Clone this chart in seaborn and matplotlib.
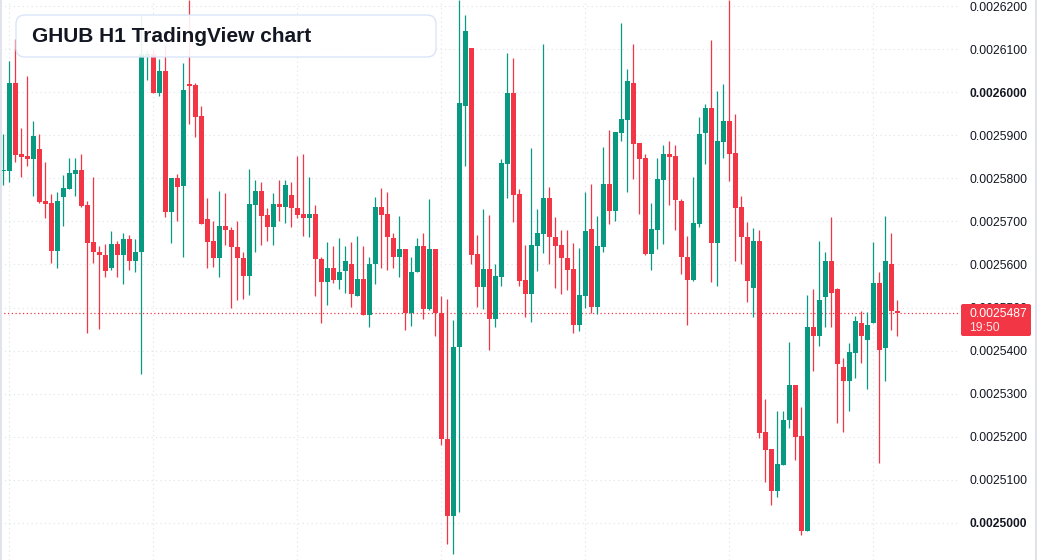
import numpy as np
import seaborn as sns
from matplotlib import pyplot as plt
from matplotlib.patches import FancyBboxPatch
from matplotlib.lines import Line2D
from matplotlib.transforms import IdentityTransform

# hourly candles, prices in units of 1e-7
opens = [25818, 25817, 26022, 25856, 25851, 25845, 25868, 25747, 25743, 25631,
         25757, 25776, 25810, 25819, 25738, 25652, 25630, 25622, 25591, 25648,
         25621, 25660, 25607, 25628, 26085, 26088, 25998, 26050, 25722, 25801,
         25783, 26020, 26016, 25944, 25706, 25655, 25614, 25689, 25680, 25641,
         25616, 25574, 25739, 25770, 25715, 25688, 25740, 25733, 25761, 25731,
         25717, 25707, 25717, 25613, 25560, 25593, 25565, 25586, 25602, 25526,
         25567, 25482, 25600, 25733, 25717, 25662, 25617, 25636, 25488, 25583,
         25643, 25497, 25636, 25488, 25196, 25016, 25409, 25968, 26103, 25625,
         25547, 25590, 25473, 25572, 25834, 25998, 25764, 25564, 25532, 25644,
         25671, 25755, 25664, 25645, 25616, 25590, 25459, 25528, 25683, 25501,
         25641, 25787, 25725, 25906, 25936, 26022, 25882, 25847, 25625, 25681,
         25797, 25856, 25851, 25747, 25617, 25565, 25694, 25906, 25963, 25650,
         25884, 25932, 25859, 25733, 25664, 25545, 25655, 25211, 25171, 25074,
         25135, 25239, 25321, 25202, 24981, 25455, 25434, 25525, 25608, 25542,
         25362, 25329, 25394, 25465, 25424, 25464, 25558, 25406, 25602, 25493]
highs = [25902, 26072, 26123, 25917, 26037, 25932, 25902, 25837, 25764, 25768,
         25807, 25848, 25848, 25856, 25747, 25802, 25643, 25648, 25678, 25654,
         25674, 25668, 25660, 26178, 26095, 26100, 26078, 26109, 25801, 25810,
         26068, 26214, 26021, 25969, 25755, 25701, 25770, 25766, 25686, 25701,
         25629, 25821, 25796, 25791, 25731, 25766, 25796, 25796, 25791, 25852,
         25856, 25802, 25738, 25617, 25652, 25643, 25662, 25643, 25652, 25667,
         25643, 25617, 25756, 25778, 25768, 25674, 25712, 25636, 25617, 25662,
         25674, 25752, 25636, 25526, 25521, 25470, 26214, 26180, 26103, 25669,
         25729, 25715, 25600, 25844, 26090, 26079, 25775, 25645, 25871, 25729,
         26113, 25779, 25711, 25680, 25680, 25650, 25639, 25768, 25787, 25712,
         25872, 25912, 25907, 26161, 26053, 26111, 25882, 25856, 25743, 25847,
         25877, 25886, 25877, 25752, 25667, 25802, 25942, 25973, 26120, 26002,
         26018, 26214, 25949, 25759, 25699, 25685, 25680, 25287, 25171, 25261,
         25261, 25421, 25321, 25270, 25530, 25542, 25655, 25629, 25711, 25546,
         25382, 25417, 25481, 25493, 25489, 25652, 25583, 25712, 25674, 25518]
lows = [25785, 25791, 25838, 25803, 25829, 25759, 25743, 25709, 25604, 25593,
        25690, 25776, 25759, 25733, 25440, 25604, 25450, 25570, 25588, 25570,
        25554, 25588, 25583, 25345, 26028, 25998, 25991, 25711, 25650, 25701,
        25617, 25926, 25896, 25695, 25591, 25595, 25572, 25645, 25500, 25517,
        25521, 25530, 25629, 25645, 25655, 25645, 25701, 25697, 25686, 25709,
        25667, 25663, 25527, 25464, 25507, 25558, 25542, 25533, 25502, 25526,
        25482, 25455, 25554, 25593, 25588, 25593, 25572, 25447, 25458, 25583,
        25473, 25494, 25434, 25180, 24952, 24927, 25026, 25829, 25600, 25501,
        25496, 25401, 25455, 25549, 25755, 25699, 25549, 25479, 25466, 25586,
        25626, 25600, 25545, 25531, 25540, 25440, 25445, 25498, 25488, 25484,
        25628, 25693, 25702, 25887, 25769, 25799, 25718, 25623, 25588, 25636,
        25648, 25738, 25679, 25579, 25459, 25562, 25688, 25834, 25559, 25549,
        25847, 25794, 25609, 25602, 25512, 25478, 25198, 25096, 25041, 25061,
        25135, 25221, 25146, 24973, 24981, 25352, 25411, 25455, 25455, 25232,
        25212, 25261, 25336, 25371, 25311, 25464, 25140, 25329, 25447, 25433]
closes = [25820, 26022, 25855, 25850, 25845, 25898, 25745, 25741, 25631, 25747,
          25778, 25812, 25819, 25735, 25650, 25628, 25621, 25586, 25648, 25621,
          25660, 25607, 25629, 26088, 26089, 25998, 26050, 25722, 25801, 25779,
          26004, 26014, 25942, 25695, 25653, 25614, 25689, 25679, 25640, 25614,
          25574, 25740, 25770, 25713, 25688, 25740, 25733, 25784, 25730, 25715,
          25707, 25717, 25612, 25560, 25593, 25565, 25583, 25608, 25531, 25567,
          25482, 25602, 25733, 25716, 25664, 25617, 25636, 25488, 25583, 25643,
          25497, 25636, 25488, 25196, 25016, 25409, 25974, 26143, 25623, 25547,
          25590, 25473, 25574, 25836, 25998, 25762, 25562, 25532, 25645, 25674,
          25755, 25663, 25644, 25614, 25588, 25459, 25530, 25678, 25501, 25643,
          25787, 25725, 25907, 25937, 26027, 25880, 25845, 25625, 25683, 25799,
          25856, 25849, 25750, 25617, 25565, 25697, 25902, 25963, 25650, 25886,
          25932, 25856, 25732, 25663, 25562, 25655, 25208, 25169, 25074, 25136,
          25240, 25321, 25200, 24981, 25455, 25434, 25517, 25608, 25533, 25369,
          25329, 25396, 25469, 25433, 25460, 25558, 25401, 25608, 25491, 25487]

day_starts = [1, 25, 49, 73, 97, 121, 145]
price_ticks = list(range(25000, 26201, 100))
bold_ticks = [25000, 26000]
last_price = 25487
countdown = "19:50"
title = "GHUB H1 TradingView chart"

UP = "#089981"
DOWN = "#f23645"
TEXT = "#131722"
GRID = "#dfe2e8"

sns.set_theme(style="white")
plt.rcParams['font.family'] = ['Liberation Sans', 'DejaVu Sans']

scale = 1e-7
o = np.array(opens) * scale
h = np.array(highs) * scale
l = np.array(lows) * scale
c = np.array(closes) * scale
x = np.arange(len(o))
colors = [UP if cc >= oo else DOWN for oo, cc in zip(o, c)]

W, H = 1037, 560
fig = plt.figure(figsize=(W / 100, H / 100), dpi=100)
ax = fig.add_axes([0, 0, 960 / W, 1])

ymin, ymax = 24914 * scale, 26214 * scale
ax.set_ylim(ymin, ymax)
ax.set_xlim(-0.55, 159.45)

# grid
for t in price_ticks:
    ax.axhline(t * scale, color=GRID, lw=0.8, ls=(0, (1, 3)), zorder=0)
for d in day_starts:
    ax.axvline(d, color=GRID, lw=0.8, ls=(0, (1, 3)), zorder=0)

# candles
ax.vlines(x, l, h, colors=colors, lw=0.9, zorder=2)
min_body = 2.5 * scale
bottom = np.minimum(o, c)
height = np.maximum(np.abs(c - o), min_body)
ax.bar(x, height, bottom=bottom, width=0.82, color=colors, linewidth=0, zorder=3)

# last price line
ax.axhline(last_price * scale, color=DOWN, lw=0.9, ls=(0, (1, 2)), zorder=1)

ax.yaxis.tick_right()
ax.set_yticks([t * scale for t in price_ticks])
ax.set_yticklabels(["0.00%d" % t for t in price_ticks])
for lab, t in zip(ax.get_yticklabels(), price_ticks):
    lab.set_fontweight('bold' if t in bold_ticks else 'normal')
ax.tick_params(axis='y', length=0, pad=6.5, labelsize=8.7, labelcolor=TEXT)
ax.set_xticks([])
sns.despine(ax=ax, left=True, bottom=True, top=True, right=True)

# title box
box = FancyBboxPatch((16, H - 57), 420, 42, boxstyle="round,pad=0,rounding_size=9",
                     transform=IdentityTransform(), facecolor="white", alpha=0.9,
                     edgecolor="#d5e3f7", linewidth=1.0)
fig.add_artist(box)
fig.text(32 / W, 1 - 37 / H, title, fontsize=15, fontweight='bold', color=TEXT,
         va='center', ha='left')

# price tag
tag = FancyBboxPatch((961, H - 336), 70, 32, boxstyle="round,pad=0,rounding_size=2",
                     transform=IdentityTransform(), facecolor=DOWN, edgecolor='none')
fig.add_artist(tag)
fig.text(969 / W, 1 - 314 / H, "0.00%d" % last_price, fontsize=8.7, color="white",
         va='center', ha='left')
fig.text(969 / W, 1 - 328 / H, countdown, fontsize=8.7, color="#fde5e7",
         va='center', ha='left')

# frame edges
fig.add_artist(Line2D([1, 1], [0, H], transform=IdentityTransform(), color="#e0e3eb", lw=1.5))
fig.add_artist(Line2D([W - 1.5, W - 1.5], [0, H], transform=IdentityTransform(), color="#e0e3eb", lw=1.5))

fig.savefig("out.png", dpi=100)
